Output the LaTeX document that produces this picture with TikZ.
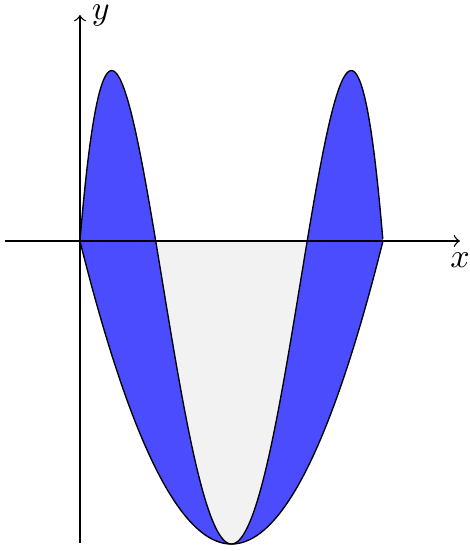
\documentclass[tikz,border=0pt]{standalone}
\begin{document}
\begin{tikzpicture}[
  curve/.style={draw=black, thin},
  axisline/.style={->, thin},
  declare function={
    f(\x) = -64/(pi^3)*((\x-pi/2)^2-(pi/2)^2)*((\x-pi/2)^2-(pi/4)^2);
    g(\x) = 4/pi*\x*(\x-pi);
  }
]
\useasboundingbox (-0.829,-3.214) rectangle (4.044,2.499);
% blue region between f and g
\fill[blue!70] plot[domain=0:pi, samples=200, smooth] (\x,{f(\x)})
  -- plot[domain=pi:0, samples=200, smooth] (\x,{g(\x)}) -- cycle;
% gray region between x-axis and f
\fill[gray!10] plot[domain=pi/4:3*pi/4, samples=150, smooth] (\x,{f(\x)}) -- cycle;
\draw[curve] plot[domain=0:pi, samples=200, smooth] (\x,{f(\x)});
\draw[curve] plot[domain=0:pi, samples=200, smooth] (\x,{g(\x)});
% axes
\coordinate (xs) at (-0.778,0);
\coordinate (xe) at (3.94,0);
\coordinate (ys) at (0,-3.131);
\coordinate (ye) at (0,2.343);
\draw[axisline] (xs) -- (xe) node[below] (xl) {$x$};
\draw[axisline] (ys) -- (ye) node[right] (yl) {$y$};
\end{tikzpicture}
\end{document}
